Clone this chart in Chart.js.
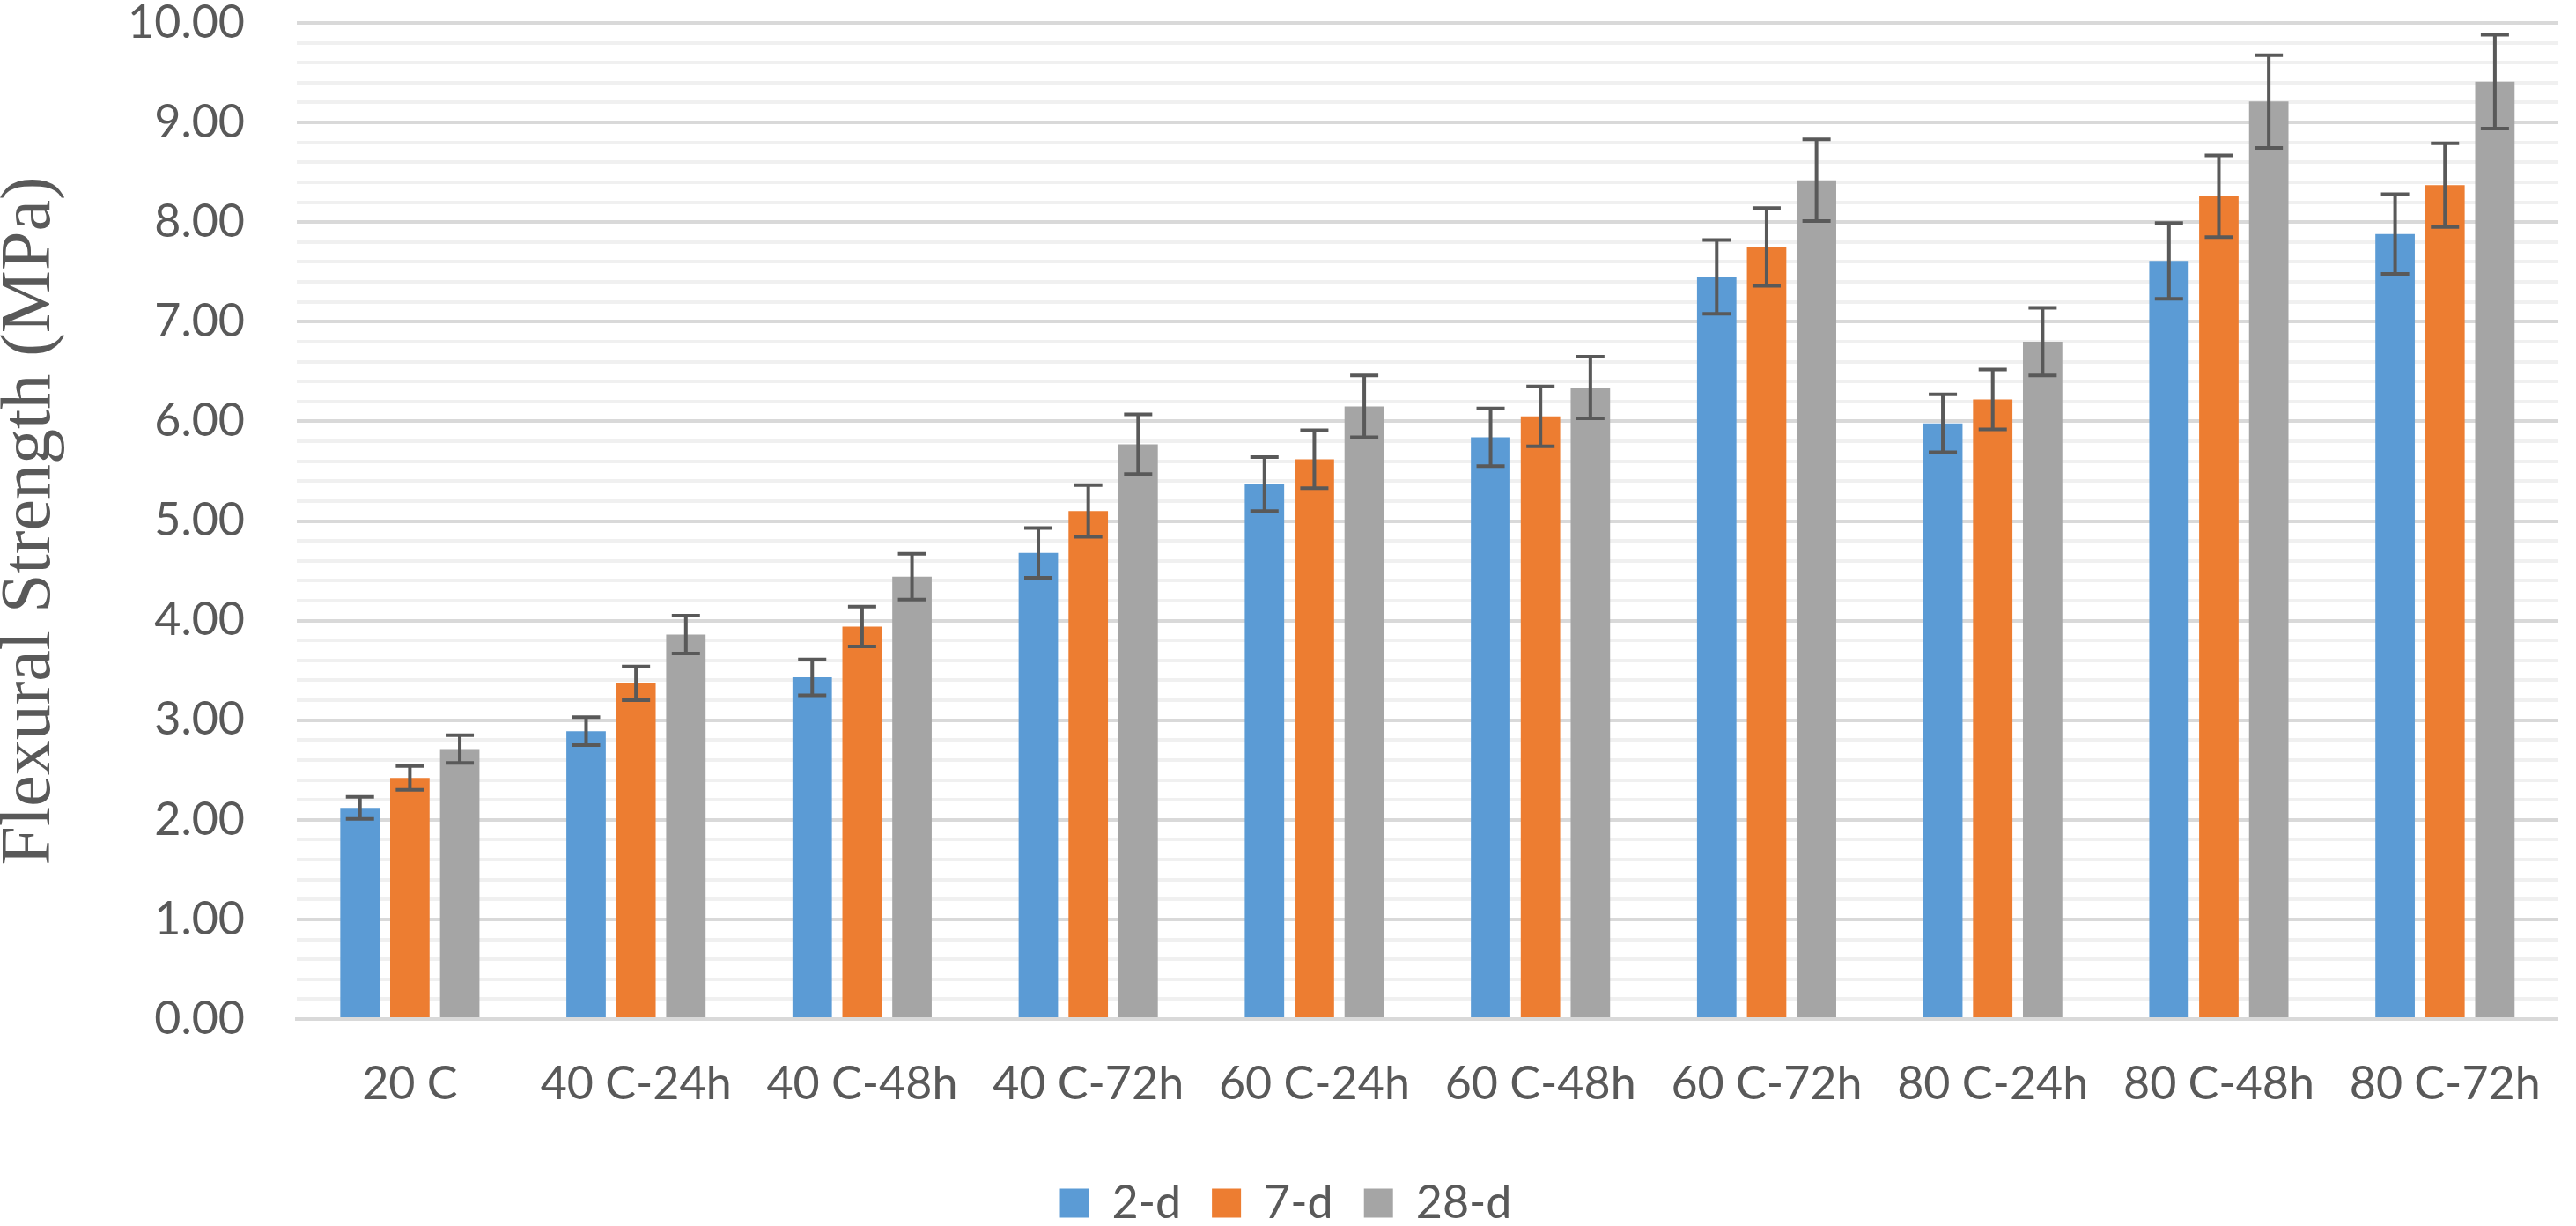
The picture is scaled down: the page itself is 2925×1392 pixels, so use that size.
<!DOCTYPE html>
<html>
<head>
<meta charset="utf-8">
<script src="https://cdn.jsdelivr.net/npm/chart.js@4.4.0/dist/chart.umd.min.js"></script>
<style>
  body { margin: 0; background: #fff; }
  #wrap { width: 2925px; height: 1392px; }
</style>
</head>
<body>
<div id="wrap"><canvas id="strength-chart" width="2925" height="1392"></canvas></div>
<script>
// categories and series
const categories = ['20 C', '40 C-24h', '40 C-48h', '40 C-72h', '60 C-24h', '60 C-48h', '60 C-72h', '80 C-24h', '80 C-48h', '80 C-72h'];
const seriesNames = ['2-d', '7-d', '28-d'];

const strength2d = [2.12, 2.89, 3.43, 4.68, 5.37, 5.84, 7.45, 5.98, 7.61, 7.88];
const strength7d = [2.42, 3.37, 3.94, 5.10, 5.62, 6.05, 7.75, 6.22, 8.26, 8.37];
const strength28d = [2.71, 3.86, 4.44, 5.77, 6.15, 6.34, 8.42, 6.80, 9.21, 9.41];

// +/- error
const err2d = [0.11, 0.14, 0.18, 0.25, 0.27, 0.29, 0.37, 0.29, 0.38, 0.40];
const err7d = [0.12, 0.17, 0.20, 0.26, 0.29, 0.30, 0.39, 0.30, 0.41, 0.42];
const err28d = [0.14, 0.19, 0.23, 0.30, 0.31, 0.31, 0.41, 0.34, 0.465, 0.47];

const colors = ['#5B9BD5', '#ED7D31', '#A5A5A5'];
const textColor = '#595959';

const errorBars = {
  id: 'errorBars',
  afterDatasetsDraw(chart) {
    const { ctx } = chart;
    const yScale = chart.scales.y;
    ctx.save();
    ctx.strokeStyle = '#595959';
    ctx.lineWidth = 4;
    chart.data.datasets.forEach((ds, i) => {
      const meta = chart.getDatasetMeta(i);
      meta.data.forEach((bar, j) => {
        const v = ds.data[j];
        const e = ds.errors[j];
        const top = yScale.getPixelForValue(v + e);
        const bottom = yScale.getPixelForValue(v - e);
        const x = bar.x;
        ctx.beginPath();
        ctx.moveTo(x, top);
        ctx.lineTo(x, bottom);
        ctx.moveTo(x - 16, top);
        ctx.lineTo(x + 16, top);
        ctx.moveTo(x - 16, bottom);
        ctx.lineTo(x + 16, bottom);
        ctx.stroke();
      });
    });
    ctx.restore();
  }
};

const isMajor = (v) => Math.abs(v - Math.round(v)) < 1e-6;

new Chart(document.getElementById('strength-chart'), {
  type: 'bar',
  data: {
    labels: categories,
    datasets: [
      { label: seriesNames[0], data: strength2d, errors: err2d, backgroundColor: colors[0] },
      { label: seriesNames[1], data: strength7d, errors: err7d, backgroundColor: colors[1] },
      { label: seriesNames[2], data: strength28d, errors: err28d, backgroundColor: colors[2] },
    ],
  },
  options: {
    responsive: false,
    devicePixelRatio: 1,
    animation: false,
    categoryPercentage: 0.662,
    barPercentage: 0.79,
    layout: { padding: { left: 0, right: 5, top: 0, bottom: -10 } },
    plugins: {
      tooltip: { enabled: false },
      legend: {
        position: 'bottom',
        labels: {
          boxWidth: 33,
          boxHeight: 33,
          padding: 35,
          color: textColor,
          font: { family: 'Lato', size: 52 },
        },
      },
    },
    scales: {
      x: {
        grid: { display: false },
        border: { display: true, color: '#d9d9d9', width: 4 },
        ticks: {
          color: textColor,
          font: { family: 'Lato', size: 52, lineHeight: 1 },
          padding: 40,
          maxRotation: 0,
          autoSkip: false,
        },
        afterFit(scale) { scale.height = 148; },
      },
      y: {
        min: 0,
        max: 10,
        border: { display: false },
        grid: {
          drawTicks: true,
          tickLength: 59,
          tickColor: 'rgba(0,0,0,0)',
          color: (c) => (isMajor(c.tick.value) ? '#d9d9d9' : '#f0f0f0'),
          lineWidth: 4,
        },
        ticks: {
          stepSize: 0.2,
          autoSkip: false,
          padding: 0,
          color: textColor,
          font: { family: 'Lato', size: 52, lineHeight: 1 },
          callback: (v) => (isMajor(v) ? v.toFixed(2) : ''),
        },
        title: {
          display: true,
          text: 'Flexural Strength (MPa)',
          color: textColor,
          font: { family: 'Liberation Serif', size: 80, lineHeight: 0.875 },
          padding: 0,
        },
        afterFit(scale) { scale.width = 337; },
      },
    },
  },
  plugins: [errorBars],
});
</script>
</body>
</html>
